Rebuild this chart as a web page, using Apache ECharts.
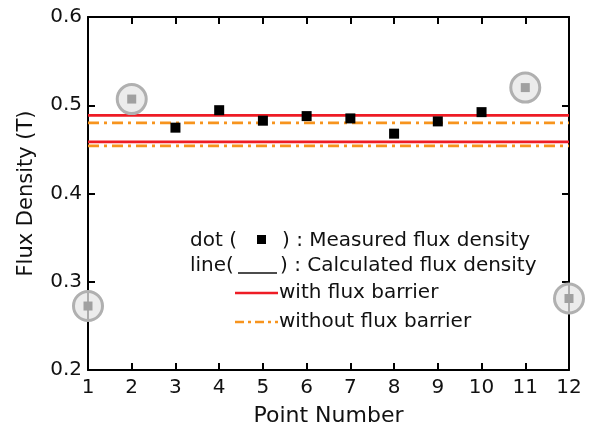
<!DOCTYPE html>
<html>
<head>
<meta charset="utf-8">
<script src="https://cdn.jsdelivr.net/npm/echarts@6/dist/echarts.min.js"></script>
<style>
  html, body { margin: 0; padding: 0; background: #fff; }
  #chart { width: 591px; height: 432px; }
</style>
</head>
<body>
<div id="chart"></div>
<script>
const pointNumbers = [1, 2, 3, 4, 5, 6, 7, 8, 9, 10, 11, 12]
const measuredX = [3, 4, 5, 6, 7, 8, 9, 10]
const measuredY = [0.4746, 0.4944, 0.4825, 0.4877, 0.4851, 0.4678, 0.4817, 0.4922]
const outlierX = [1, 2, 11, 12]
const outlierY = [0.2725, 0.507, 0.520, 0.281]
const withBarrier = [0.4885, 0.4584]
const withoutBarrier = [0.480, 0.4539]
const yTicks = [0.2, 0.3, 0.4, 0.5, 0.6]

const FONT = 'DejaVu Sans'
const RED = '#ee1c25'
const ORANGE = '#f7941d'
const dashDot = [11, 5, 3, 5]

const chart = echarts.init(document.getElementById('chart'))

const xMin = pointNumbers[0], xMax = pointNumbers[pointNumbers.length - 1]

const hLine = (v, color, type, i) => ({
  name: 'l' + i,
  type: 'line',
  data: [[xMin, v], [xMax, v]],
  symbol: 'none',
  silent: true,
  lineStyle: { color, width: 2.7, type },
  z: 2
})

const axisBase = {
  type: 'value',
  axisLine: { show: true, onZero: false, lineStyle: { color: '#000', width: 2 } },
  axisTick: { show: true, inside: true, length: 7, lineStyle: { color: '#000', width: 2 } },
  splitLine: { show: false }
}

// legend texts, placed by their left edge and vertical middle
const legendText = (x, y, text) => ({
  type: 'text', x, y,
  style: { text, font: '20px "' + FONT + '"', fill: '#111', align: 'left', verticalAlign: 'middle' }
})

const option = {
  animation: false,
  grid: { left: 88, right: 22, top: 17, bottom: 60 },
  xAxis: [
    Object.assign({}, axisBase, {
      min: xMin, max: xMax, interval: 1,
      name: 'Point Number', nameLocation: 'middle', nameGap: 35,
      nameTextStyle: { fontFamily: FONT, fontSize: 22, color: '#111' },
      axisLabel: { fontFamily: FONT, fontSize: 20, color: '#111', margin: 8 }
    }),
    Object.assign({}, axisBase, {
      position: 'top', min: xMin, max: xMax, interval: 1,
      axisLabel: { show: false }
    })
  ],
  yAxis: [
    Object.assign({}, axisBase, {
      min: yTicks[0], max: yTicks[yTicks.length - 1], interval: 0.1,
      name: 'Flux Density (T)', nameLocation: 'middle', nameGap: 51,
      nameTextStyle: { fontFamily: FONT, fontSize: 21, color: '#111' },
      axisLabel: { fontFamily: FONT, fontSize: 20, color: '#111', margin: 6,
        formatter: v => v.toFixed(1) }
    }),
    Object.assign({}, axisBase, {
      position: 'right', min: yTicks[0], max: yTicks[yTicks.length - 1], interval: 0.1,
      axisLabel: { show: false }
    })
  ],
  series: [
    hLine(withBarrier[0], RED, 'solid', 0),
    hLine(withBarrier[1], RED, 'solid', 1),
    hLine(withoutBarrier[0], ORANGE, dashDot, 2),
    hLine(withoutBarrier[1], ORANGE, dashDot, 3),
    {
      name: 'measured',
      type: 'scatter',
      symbol: 'rect',
      symbolSize: 10,
      data: measuredX.map((x, i) => [x, measuredY[i]]),
      itemStyle: { color: '#000', opacity: 1 },
      z: 5
    },
    {
      name: 'outlierRing',
      type: 'scatter',
      symbol: 'circle',
      symbolSize: 29,
      clip: false,
      data: outlierX.map((x, i) => [x, outlierY[i]]),
      itemStyle: { color: 'rgba(230,230,230,0.75)', borderColor: '#b0b0b0', borderWidth: 3, opacity: 1 },
      z: 6
    },
    {
      name: 'outlier',
      type: 'scatter',
      symbol: 'rect',
      symbolSize: 9,
      clip: false,
      data: outlierX.map((x, i) => [x, outlierY[i]]),
      itemStyle: { color: '#a0a0a0', opacity: 1 },
      z: 7
    }
  ],
  graphic: [
    legendText(190, 241, 'dot ('),
    { type: 'rect', x: 257, y: 235, shape: { width: 9, height: 9 }, style: { fill: '#000' } },
    legendText(282, 241, ') : Measured flux density'),
    legendText(190, 266, 'line('),
    { type: 'line', shape: { x1: 238, y1: 273, x2: 277, y2: 273 }, style: { stroke: '#111', lineWidth: 1.5 } },
    legendText(280, 266, ') : Calculated flux density'),
    { type: 'line', shape: { x1: 235, y1: 293, x2: 278, y2: 293 }, style: { stroke: RED, lineWidth: 2.7 } },
    legendText(279, 293, 'with flux barrier'),
    { type: 'line', shape: { x1: 235, y1: 322, x2: 278, y2: 322 }, style: { stroke: ORANGE, lineWidth: 2.7, lineDash: [9, 4, 3, 4] } },
    legendText(279, 322, 'without flux barrier')
  ]
}

chart.setOption(option)
</script>
</body>
</html>
